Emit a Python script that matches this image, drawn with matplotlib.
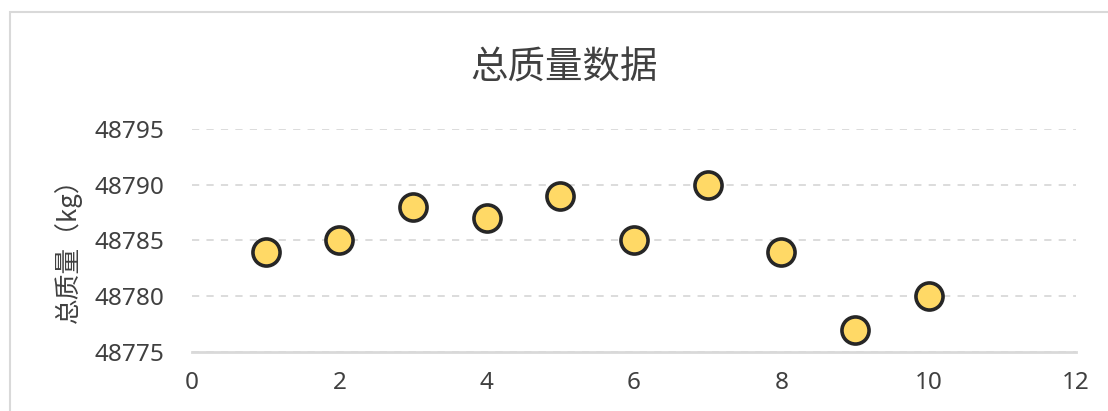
import matplotlib
matplotlib.use("Agg")
import matplotlib.pyplot as plt
from matplotlib.patches import Rectangle

plt.rcParams['font.family'] = ['Noto Sans', 'Noto Sans CJK SC', 'DejaVu Sans']

# data
x_vals = [1, 2, 3, 4, 5, 6, 7, 8, 9, 10]
mass_vals = [48784, 48785, 48788, 48787, 48789, 48785, 48790, 48784, 48777, 48780]
x_ticks = [0, 2, 4, 6, 8, 10, 12]
y_ticks = [48775, 48780, 48785, 48790, 48795]
title = "总质量数据"
ylabel = "总质量（kg）"

W, H = 1108, 411
fig = plt.figure(figsize=(W / 100, H / 100), dpi=100)
fig.patch.set_facecolor("white")

# outer chart frame
fig.patches.append(Rectangle((10 / W, -0.1), 1.2, (H - 12) / H + 0.1,
                             transform=fig.transFigure, fill=False,
                             edgecolor="#D9D9D9", linewidth=1.5))

ax = fig.add_axes([192 / W, (H - 352) / H, (1076 - 192) / W, (352 - 129) / H])
ax.plot(x_vals, mass_vals, linestyle="none", marker="o", markersize=19.5,
        markerfacecolor="#FFD966", markeredgecolor="#262626",
        markeredgewidth=2.6, clip_on=False, zorder=3)

ax.set_xlim(0, 12)
ax.set_ylim(48775, 48795)
ax.set_xticks(x_ticks)
ax.set_yticks(y_ticks)
ax.tick_params(length=0, labelsize=17.5, labelcolor="#404040")
ax.tick_params(axis="y", pad=20)
ax.tick_params(axis="x", pad=14)

ax.grid(axis="y", linestyle=(0, (4, 4)), color="#D9D9D9", linewidth=1.3)
ax.set_axisbelow(True)
for s in ["top", "right", "left"]:
    ax.spines[s].set_visible(False)
ax.spines["bottom"].set_color("#D9D9D9")
ax.spines["bottom"].set_linewidth(2)

fig.text(564 / W, 1 - 68 / H, title, ha="center", va="center",
         fontsize=27, color="#404040", family=['Noto Sans CJK SC'])
fig.text(68 / W, 1 - 244 / H, ylabel, ha="center", va="center",
         rotation=90, fontsize=18.5, color="#404040", family=['Noto Sans CJK SC'])

fig.savefig("out.png", dpi=100, facecolor="white")
